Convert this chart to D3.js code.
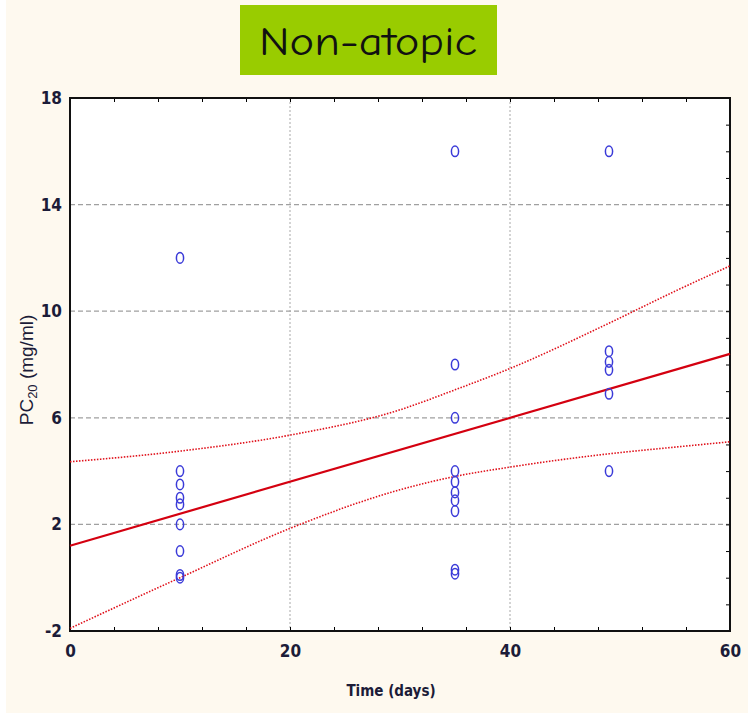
<!DOCTYPE html>
<html>
<head>
<meta charset="utf-8">
<script src="https://cdn.jsdelivr.net/npm/d3@7"></script>
<style>
  body { margin: 0; background: #fff; }
  svg { display: block; }
  .tick text { font-family: "Liberation Sans Narrow", "DejaVu Sans Condensed", sans-serif; font-stretch: condensed; font-size: 17px; fill: #1c1c38; font-weight: bold; }
</style>
</head>
<body>
<svg id="chart"></svg>
<script>
var svgWidth = 748, svgHeight = 716;
var plotLeft = 70, plotRight = 730, plotTop = 98, plotBottom = 631;

// PC20 readings at each time point
var day10 = [12, 4, 3.5, 3, 2.75, 2, 1, 0.1, 0];
var day35 = [16, 8, 6, 4, 3.6, 3.2, 2.9, 2.5, 0.3, 0.15];
var day49 = [16, 8.5, 8.1, 7.8, 6.9, 4];
var groups = [ { day: 10, values: day10 }, { day: 35, values: day35 }, { day: 49, values: day49 } ];

// fitted line and confidence band
var fitDays = [0, 60];
var fitValues = [1.2, 8.4];
var bandDays = [0, 10, 20, 30, 35, 40, 49, 55, 60];
var upperBand = [4.35, 4.75, 5.35, 6.3, 7.05, 7.85, 9.55, 10.75, 11.7];
var lowerBand = [-1.9, 0.0, 1.85, 3.3, 3.8, 4.15, 4.65, 4.9, 5.1];

var xTicks = [0, 20, 40, 60];
var yTicks = [-2, 2, 6, 10, 14, 18];

var svg = d3.select('#chart')
    .attr('width', svgWidth)
    .attr('height', svgHeight);

// cream page
svg.append('rect')
    .attr('x', 6).attr('y', 0)
    .attr('width', svgWidth - 6).attr('height', 713)
    .attr('fill', '#fef9ef');

// title box
svg.append('rect')
    .attr('x', 240).attr('y', 5)
    .attr('width', 257).attr('height', 70)
    .attr('fill', '#99cc00');
svg.append('text')
    .attr('x', 368).attr('y', 55)
    .attr('text-anchor', 'middle')
    .attr('textLength', 218)
    .attr('lengthAdjust', 'spacingAndGlyphs')
    .style('font-family', '"Comic Sans MS", "Comic Neue", "DejaVu Sans", sans-serif')
    .style('font-size', '40px')
    .attr('fill', '#111')
    .text('Non-atopic');

var x = d3.scaleLinear().domain([0, 60]).range([plotLeft, plotRight]);
var y = d3.scaleLinear().domain([-2, 18]).range([plotBottom, plotTop]);

svg.append('rect')
    .attr('x', plotLeft).attr('y', plotTop)
    .attr('width', plotRight - plotLeft).attr('height', plotBottom - plotTop)
    .attr('fill', '#fff');

// grid
svg.append('g')
    .selectAll('line')
    .data(yTicks.slice(1, -1))
    .enter()
    .append('line')
    .attr('x1', plotLeft).attr('x2', plotRight)
    .attr('y1', function(d){ return y(d); })
    .attr('y2', function(d){ return y(d); })
    .attr('stroke', '#a0a0a0')
    .attr('stroke-width', 1.3)
    .attr('stroke-dasharray', '5,3');

svg.append('g')
    .selectAll('line')
    .data(xTicks.slice(1, -1))
    .enter()
    .append('line')
    .attr('y1', plotTop).attr('y2', plotBottom)
    .attr('x1', function(d){ return x(d); })
    .attr('x2', function(d){ return x(d); })
    .attr('stroke', '#a8a8a8')
    .attr('stroke-width', 1)
    .attr('stroke-dasharray', '2,2');

// minor ticks, inside the frame
svg.append('g')
    .attr('transform', 'translate(0,' + plotBottom + ')')
    .call(d3.axisTop(x).tickValues(d3.range(0, 61, 4)).tickSize(4).tickFormat(''))
    .call(function(g){ g.select('.domain').remove(); });
svg.append('g')
    .attr('transform', 'translate(0,' + plotTop + ')')
    .call(d3.axisBottom(x).tickValues(d3.range(0, 61, 4)).tickSize(4).tickFormat(''))
    .call(function(g){ g.select('.domain').remove(); });
svg.append('g')
    .attr('transform', 'translate(' + plotRight + ',0)')
    .call(d3.axisLeft(y).tickValues(d3.range(-2, 19, 1)).tickSize(4).tickFormat(''))
    .call(function(g){ g.select('.domain').remove(); });

// labelled axes (plain hyphen for negatives, as in the original)
var plain = function(d){ return String(d); };
var xAxis = d3.axisBottom(x).tickValues(xTicks).tickSize(0).tickPadding(14).tickFormat(plain);
var yAxis = d3.axisLeft(y).tickValues(yTicks).tickSize(0).tickPadding(8).tickFormat(plain);

svg.append('g')
    .attr('transform', 'translate(0,' + plotBottom + ')')
    .call(xAxis)
    .call(function(g){ g.select('.domain').remove(); });
svg.append('g')
    .attr('transform', 'translate(' + plotLeft + ',0)')
    .call(yAxis)
    .call(function(g){ g.select('.domain').remove(); });

// frame
svg.append('rect')
    .attr('x', plotLeft).attr('y', plotTop)
    .attr('width', plotRight - plotLeft).attr('height', plotBottom - plotTop)
    .attr('fill', 'none')
    .attr('stroke', '#111')
    .attr('stroke-width', 2);

// confidence band
var bandLine = d3.line()
    .x(function(d){ return x(d[0]); })
    .y(function(d){ return y(d[1]); })
    .curve(d3.curveMonotoneX);

[upperBand, lowerBand].forEach(function(band){
    svg.append('path')
        .datum(d3.zip(bandDays, band))
        .attr('d', bandLine)
        .attr('fill', 'none')
        .attr('stroke', '#e0101a')
        .attr('stroke-width', 1.6)
        .attr('stroke-dasharray', '1.5,1.5');
});

// regression line
svg.append('path')
    .datum(d3.zip(fitDays, fitValues))
    .attr('d', d3.line().x(function(d){ return x(d[0]); }).y(function(d){ return y(d[1]); }))
    .attr('fill', 'none')
    .attr('stroke', '#d40010')
    .attr('stroke-width', 2.2);

// points
var points = [];
groups.forEach(function(g){
    g.values.forEach(function(v){ points.push({ day: g.day, value: v }); });
});

svg.append('g')
    .selectAll('ellipse')
    .data(points)
    .enter()
    .append('ellipse')
    .attr('cx', function(d){ return x(d.day); })
    .attr('cy', function(d){ return y(d.value); })
    .attr('rx', 3.6)
    .attr('ry', 5.3)
    .attr('fill', 'none')
    .attr('stroke', '#3a3ad8')
    .attr('stroke-width', 1.5);

// axis titles
svg.append('text')
    .attr('x', 391).attr('y', 696)
    .attr('text-anchor', 'middle')
    .style('font-family', '"Liberation Sans Narrow", "DejaVu Sans Condensed", sans-serif')
    .style('font-stretch', 'condensed')
    .style('font-size', '15px')
    .style('font-weight', 'bold')
    .attr('fill', '#1c1c38')
    .text('Time (days)');

var yTitle = svg.append('text')
    .attr('transform', 'translate(33,370) rotate(-90)')
    .attr('text-anchor', 'middle')
    .style('font-family', '"Liberation Sans", Arial, sans-serif')
    .style('font-size', '19px')
    .attr('fill', '#1c1c38');
yTitle.append('tspan').text('PC');
yTitle.append('tspan').attr('dy', 4).style('font-size', '13px').text('20');
yTitle.append('tspan').attr('dy', -4).text(' (mg/ml)');
</script>
</body>
</html>
